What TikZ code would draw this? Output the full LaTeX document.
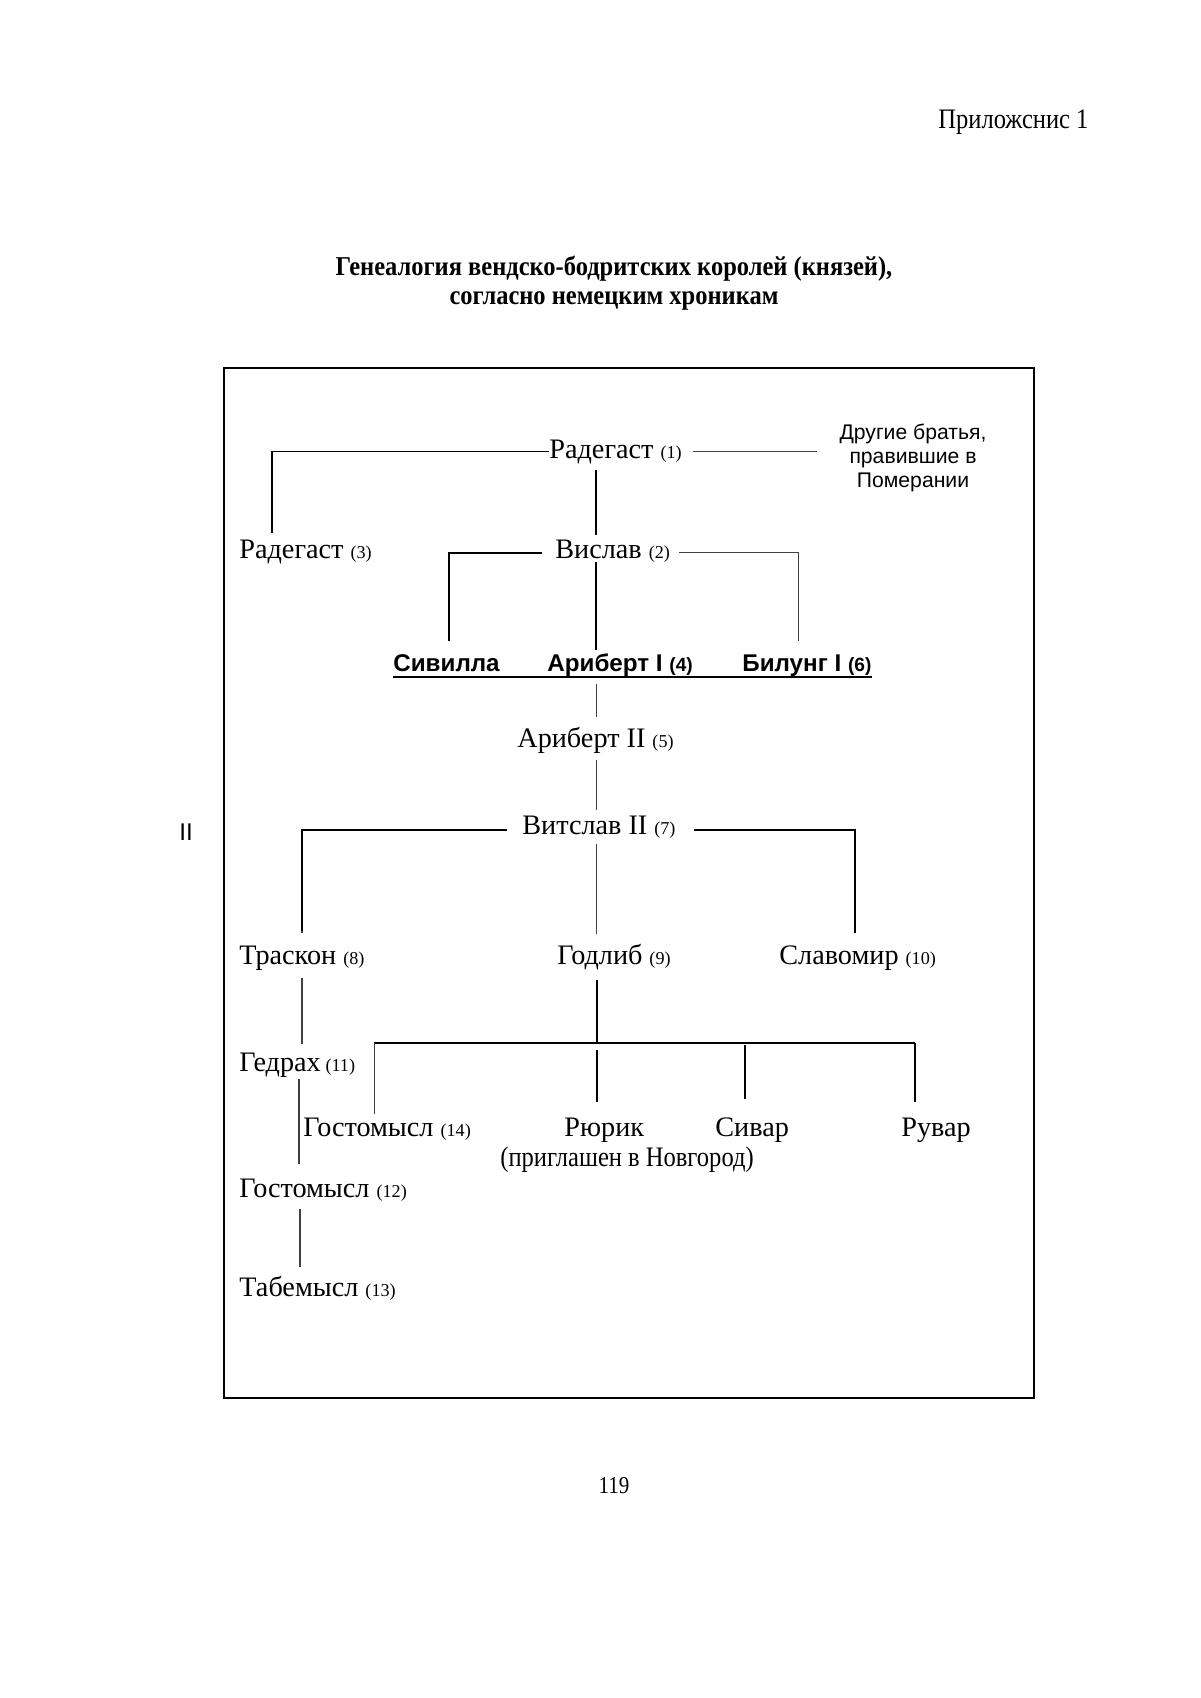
\documentclass[tikz,border=0pt]{standalone}
\usepackage{fontspec}
\setmainfont{Liberation Serif}
\newfontfamily\sansf{Liberation Sans}
\newfontfamily\condf{Liberation Serif}[FakeStretch=0.87]
\newfontfamily\titlef{Liberation Serif}[FakeStretch=0.9]
\usetikzlibrary{calc}
\newcommand\numtag[1]{{\fontsize{9}{10}\selectfont(#1)}}
\newcommand\bnumtag[1]{{\fontsize{9.5}{10}\selectfont(#1)}}
\begin{document}
\begin{tikzpicture}[x=0.4961pt,y=-0.4961pt,
  nm/.style={anchor=base west,inner sep=0pt,font=\fontsize{14}{16}\selectfont},
  bnm/.style={anchor=base west,inner sep=0pt,font=\sansf\bfseries\fontsize{12}{14}\selectfont},
  lnA/.style={draw=black,line width=0.8pt},
  lnB/.style={draw=black!75,line width=0.5pt},
  lnC/.style={draw=black,line width=1pt}]
\fill[white] (0,0) rectangle (1200,1698);
\useasboundingbox (0,0) rectangle (1200,1698);

% page header, title, footer
\node[anchor=base west,inner sep=0pt,font=\condf\fontsize{14}{16}\selectfont] (hdr) at (938,128) {Приложснис 1};
\node[anchor=base,inner sep=0pt,font=\titlef\bfseries\fontsize{13.5}{16}\selectfont] (t1) at (614,275) {Генеалогия вендско-бодритских королей (князей),};
\node[anchor=base,inner sep=0pt,font=\titlef\bfseries\fontsize{13.5}{16}\selectfont] (t2) at (614,304) {согласно немецким хроникам};
\node[anchor=base,inner sep=0pt,font=\condf\fontsize{12}{14}\selectfont] (pg) at (614,1493) {119};
\node[anchor=base,inner sep=0pt,font=\sansf\fontsize{12}{14}\selectfont] (mark) at (186,840) {II};

% frame
\draw[line width=1pt] (224,368) rectangle (1034,1398);

% column axis
\coordinate (axis) at (596,0);

% nodes
\node[nm] (r1) at (549,458) {Радегаст \numtag{1}};
\node[anchor=center,inner sep=0pt,align=center,font=\sansf\fontsize{10.5}{11.8}\selectfont] (others) at (913,458) {Другие братья,\\правившие в\\Померании};
\node[nm] (r3) at (239,558) {Радегаст \numtag{3}};
\node[nm] (vis) at (555,558) {Вислав \numtag{2}};
\node[bnm] (siv) at (393,671) {Сивилла};
\node[bnm] (ar1) at (547,671) {Ариберт I \bnumtag{4}};
\node[bnm] (bil) at (742,671) {Билунг I \bnumtag{6}};
\node[nm] (ar2) at (517,747) {Ариберт II \numtag{5}};
\node[nm] (vit) at (522,834) {Витслав II \numtag{7}};
\node[nm] (tra) at (239,964) {Траскон \numtag{8}};
\node[nm] (god) at (557,964) {Годлиб \numtag{9}};
\node[nm] (sla) at (779,964) {Славомир \numtag{10}};
\node[nm] (ged) at (239,1071) {Гедрах\,\numtag{11}};
\node[nm] (g14) at (303,1136) {Гостомысл \numtag{14}};
\node[nm] (rur) at (564,1136) {Рюрик};
\node[nm,font=\condf\fontsize{14}{16}\selectfont] (inv) at (500,1166) {(приглашен в Новгород)};
\node[nm] (siva) at (715,1136) {Сивар};
\node[nm] (ruv) at (901,1136) {Рувар};
\node[nm] (g12) at (239,1197) {Гостомысл \numtag{12}};
\node[nm] (tab) at (239,1296) {Табемысл \numtag{13}};

% junction coordinates
\coordinate (jr3) at (272,533);
\coordinate (jsiv) at (449,641);
\coordinate (jbil) at (798,641);
\coordinate (jtra) at (302,931);
\coordinate (jsla) at (855,931);
\coordinate (bar) at (597,1043);
\coordinate (barL) at (374,1043);
\coordinate (barS) at (745,1043);
\coordinate (barR) at (915,1043);

% connectors
\draw[lnA] (r1.west) -| (jr3);
\draw[lnB] ($(r1.east)+(11,0)$) -- ($(r1.east -| others.west)+(-22,0)$);
\draw[lnA] ($(r1.south -| axis)+(0,6)$) -- ($(vis.north -| axis)+(0,-4)$);
\draw[lnA] ($(vis.west)+(-13,2)$) -| (jsiv);
\draw[lnB] ($(vis.east)+(9,2)$) -| (jbil);
\draw[lnA] ($(vis.south -| axis)+(0,0)$) -- ($(ar1.north -| axis)+(0,-3)$);
\draw[lnC] ($(siv.base west)+(0,6)$) -- ($(bil.base east)+(0,6)$);
\draw[lnB] ($(ar1.south -| axis)+(0,8)$) -- ($(ar2.north -| axis)+(0,-9)$);
\draw[lnB] ($(ar2.south -| axis)+(0,7)$) -- ($(vit.north -| axis)+(0,-5)$);
\draw[lnC] ($(vit.west)+(-15,3)$) -| (jtra);
\draw[lnB] (jtra) -- ($(tra.north -| jtra)+(0,-12)$);
\draw[lnC] ($(vit.east)+(18,3)$) -| (jsla) -- ($(sla.north -| jsla)+(0,-12)$);
\draw[lnB] ($(vit.south -| axis)+(0,6)$) -- ($(god.north -| axis)+(0,-9)$);
\draw[lnA] ($(god.south -| bar)+(0,10)$) -- (bar);
\draw[line width=0.7pt] (barL) -- (barR);
\draw[lnB] (barL) -- ($(g14.north -| barL)+(0,-3)$);
\draw[lnA] ($(bar)+(0,7)$) -- ($(rur.north -| bar)+(0,-15)$);
\draw[lnA] ($(barS)+(0,2)$) -- ($(siva.north -| barS)+(0,-18)$);
\draw[lnA] (barR) -- ($(ruv.north -| barR)+(0,-15)$);
\draw[lnB] ($(tra.south -| jtra)+(0,8)$) -- ($(ged.north -| jtra)+(0,-8)$);
\coordinate (jged) at (299,0);
\draw[lnB] ($(ged.south -| jged)+(0,2)$) -- ($(g12.north -| jged)+(0,-14)$);
\coordinate (jg12) at (300,0);
\draw[lnB] ($(g12.south -| jg12)+(0,8)$) -- ($(tab.north -| jg12)+(0,-8)$);
\end{tikzpicture}
\end{document}
